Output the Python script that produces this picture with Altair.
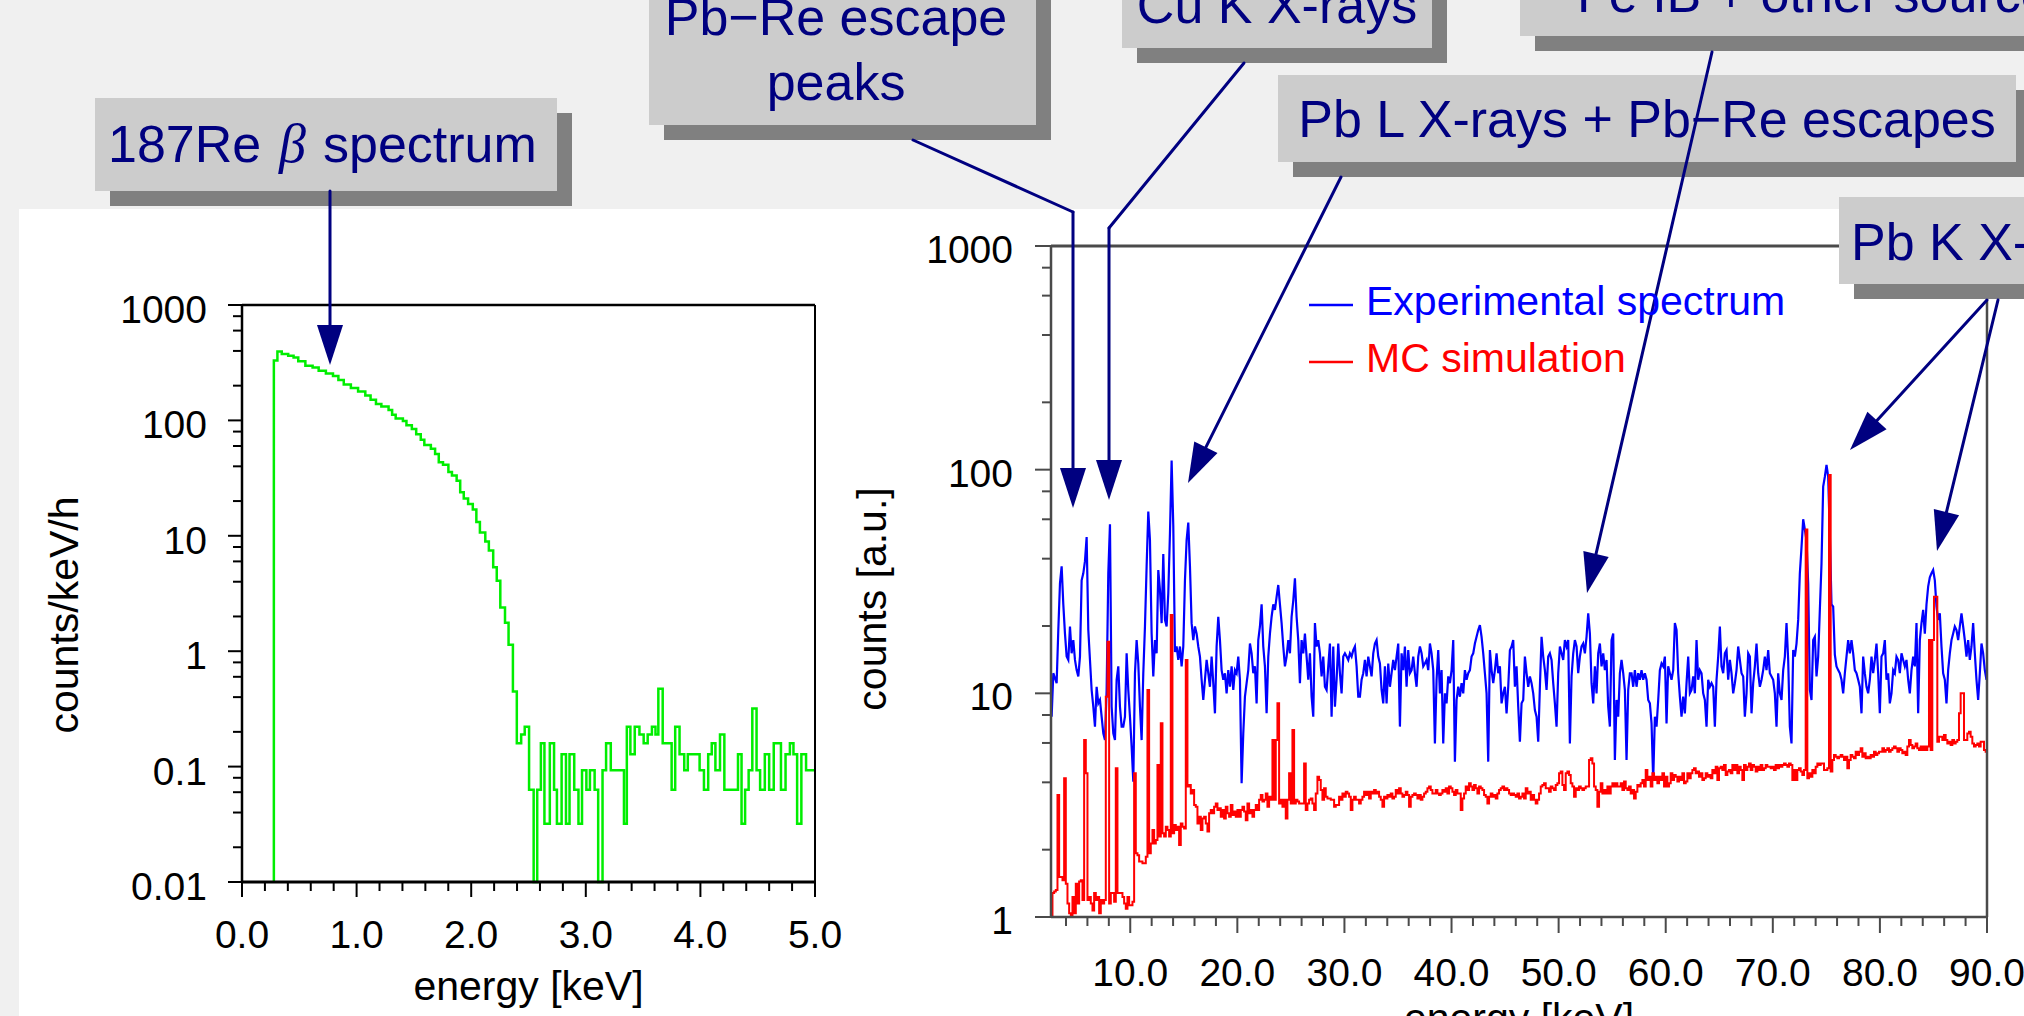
import math
import altair as alt
import pandas as pd

# ---------------- left panel: 187Re beta spectrum (bin left edge [keV], counts/keV/h) ----------------
green_steps = [
    (0.278, 0.01), (0.278, 331), (0.309, 396), (0.347, 377), (0.403, 363), (0.450, 351), (0.491, 326),
    (0.553, 298), (0.616, 287), (0.669, 269), (0.732, 255), (0.794, 242), (0.841, 224), (0.888, 205),
    (0.950, 191), (1.013, 178), (1.076, 164), (1.122, 151), (1.169, 139), (1.216, 132), (1.279, 123),
    (1.310, 112), (1.341, 104), (1.404, 99), (1.435, 90.6), (1.482, 84.3), (1.520, 75.7), (1.560, 68.1),
    (1.591, 61.1), (1.648, 56.9), (1.685, 51.2), (1.717, 43.4), (1.754, 41.3), (1.801, 35.8), (1.832, 33.3),
    (1.873, 30.0), (1.904, 23.9), (1.935, 21.0), (1.973, 18.9), (2.014, 16.9), (2.045, 13.2), (2.076, 10.7),
    (2.123, 8.92), (2.154, 7.46), (2.192, 5.34), (2.223, 4.07), (2.254, 2.39), (2.295, 1.76), (2.326, 1.14),
    (2.364, 0.447), (2.398, 0.159), (2.436, 0.19), (2.467, 0.222), (2.505, 0.063), (2.545, 0.01), (2.576, 0.063),
    (2.608, 0.159), (2.639, 0.032), (2.686, 0.159), (2.723, 0.063), (2.748, 0.032), (2.789, 0.128), (2.827, 0.032),
    (2.858, 0.128), (2.899, 0.063), (2.936, 0.032), (2.967, 0.093), (3.005, 0.063), (3.036, 0.093), (3.077, 0.063),
    (3.108, 0.01), (3.146, 0.093), (3.177, 0.159), (3.218, 0.093), (3.333, 0.032), (3.358, 0.222), (3.389, 0.128),
    (3.427, 0.222), (3.468, 0.19), (3.505, 0.159), (3.540, 0.19), (3.577, 0.222), (3.608, 0.19), (3.633, 0.473),
    (3.671, 0.159), (3.749, 0.063), (3.780, 0.222), (3.818, 0.128), (3.859, 0.093), (3.890, 0.128), (3.993, 0.093),
    (4.031, 0.063), (4.068, 0.128), (4.099, 0.159), (4.131, 0.093), (4.171, 0.19), (4.209, 0.063), (4.328, 0.128),
    (4.359, 0.032), (4.390, 0.063), (4.421, 0.093), (4.453, 0.318), (4.490, 0.093), (4.521, 0.063), (4.562, 0.128),
    (4.600, 0.063), (4.640, 0.159), (4.703, 0.063), (4.743, 0.128), (4.781, 0.159), (4.812, 0.128), (4.844, 0.032),
    (4.881, 0.128), (4.922, 0.093), (5.0, 0.093),
]

# ---------------- right panel: experimental spectrum and MC simulation (counts per channel) ----------------
channel_first_keV = 2.66
channel_width_keV = 0.1556

exp_counts = [
    7.86, 12.3, 11.7, 11.1, 19.2, 31, 37, 25, 18.5, 14.6, 14.1, 19.9, 15.1, 17.3, 14.1, 12.7, 11.9, 14.6, 32, 34.4,
    39, 50, 19.2, 14.1, 10.35, 8.71, 7.1, 10.7, 9.02, 9.34, 7.86, 6.62, 6.18, 10.35, 34.4, 57, 8.71, 6.62, 6.18, 11.5,
    13.2, 8.71, 7.1, 7.1, 7.86, 15.1, 10.35, 7.86, 5.78, 4.03, 12.3, 17.3, 13.6, 8.71, 6.18, 12.3, 19.9, 37, 65, 48.5,
    18.5, 11.9, 17.3, 15.1, 35.6, 29, 20.6, 42, 21.3, 19.9, 28, 52, 110, 56, 15.3, 16.2, 14.1, 16.2, 13.2, 16.2,
    32, 48.5, 58, 37, 20.6, 17.3, 19.9, 18.5, 16.2, 14.6, 11.5, 9.34,
    11.5, 14.1, 12.3, 10.7, 14.6, 11.1, 8.14, 16.2, 22, 17.3, 12.7, 11.5, 12.3, 10, 12.7, 10.7, 13.2, 10.35, 12.7, 12.3,
    14.6, 11.5, 3.96, 6.62, 9.66, 11.1, 12.7, 16.7, 15.1, 12.3, 13.2, 9.02, 17.3, 19.9, 25, 16.2, 13.2, 8.14, 14.6, 18.5,
    22, 25, 23.6, 27, 30.5, 25, 20.6, 16.2, 13.2, 14.6, 17.3, 15.1, 22, 26, 32.7, 22, 17.3, 11.1, 17.3, 15.1,
    18.5, 14.6, 11.5, 15.1, 9.66, 7.86, 20.6, 16.2, 17.3, 15.1, 11.9, 14.6, 10.7, 10.35, 13.2, 16.7, 7.86, 16.2, 8.71, 11.5,
    16.7, 12.3, 10, 14.6, 15.1, 14.6, 14.1, 15.1, 14.6, 15.6, 16.2, 13.2, 9.66,
    9.66, 11.5, 12.3, 14.1, 11.9, 14.6, 13.2, 11.9, 15.1, 16.7, 17.3, 14.6, 13.6, 10.35, 9.02, 13.2, 9.02, 13.6, 10.7, 12.3,
    14.1, 12.7, 14.6, 16.7, 7.1, 15.1, 12.7, 16.2, 10.7, 15.6, 12.3, 12.7, 14.6, 12.3, 10.7, 14.6, 16.2, 15.1, 13.2, 13.6,
    14.1, 12.7, 16.7, 15.1, 12.7, 5.97, 11.5, 15.6, 10, 12.7, 5.97, 10, 9.02, 11.9, 11.1, 12.7, 17.3, 4.95, 9.34, 10.7,
    9.66, 11.1, 10, 12.7, 11.5, 12.3, 12.7, 14.6, 15.1, 16.7, 17.9, 19.2, 20.2, 17.9, 15.1, 12.3, 10, 4.95, 15.6, 12.7,
    11.1, 12.7, 15.1, 12.3, 13.2, 9.02, 10, 10.7, 8.14, 10.7, 15.6, 16.2, 17.3,
    10.7, 13.2, 8.71, 6.08, 9.02, 9.34, 14.6, 12.3, 10.7, 11.9, 11.1, 10, 8.42, 7.86, 6.08, 10.7, 17.9, 14.6, 12.7, 10.35,
    14.6, 15.1, 14.1, 11.1, 9.02, 7.1, 12.3, 16.2, 15.1, 14.1, 17.3, 16.2, 17.3, 5.97, 11.9, 15.1, 17.3, 16.2, 12.3, 14.6,
    16.2, 16.7, 15.1, 17.9, 22.8, 18.5, 11.1, 9.02, 13.2, 10, 15.1, 16.7, 13.2, 15.1, 12.7, 14.1, 8.71, 7.1, 17.3, 18.5,
    5.03, 9.34, 7.86, 12.3, 14.1, 12.3, 10.35, 5.03, 10.35, 12.3, 12.3, 10.7, 12.7, 10.7, 12.3, 11.5, 12.7, 11.5, 12.3, 11.5,
    9.34, 9.02, 7.34, 4.1, 7.86, 7.1, 9.34, 12.7, 13.6, 13.2, 14.6, 7.34, 13.2,
    12.3, 11.5, 12.7, 20.6, 19.2, 12.3, 9.66, 7.86, 9.66, 8.14, 11.1, 14.6, 10, 10.35, 11.9, 10, 17.3, 11.5, 12.7, 12.3,
    10, 9.34, 7.1, 11.5, 10.7, 11.1, 10.7, 7.1, 11.5, 14.6, 19.9, 13.2, 12.3, 15.1, 15.6, 11.5, 14.1, 12.3, 10, 11.1,
    12.7, 16.2, 14.1, 12.3, 11.9, 7.86, 10, 15.1, 14.6, 8.14, 11.1, 13.2, 16.7, 12.3, 10.7, 11.5, 12.7, 14.6, 12.7, 15.6,
    12.3, 11.9, 11.5, 10, 7.1, 12.3, 10, 9.34, 12.7, 14.6, 20.6, 14.1, 7.1, 5.97, 15.6, 14.6, 16.7, 21.3, 34.4, 45,
    60, 54, 48.5, 31, 10.35, 9.34, 17.3, 17.9, 11.9, 14.6, 23.6, 38, 84,
    93, 105, 93, 51, 25, 24.4, 14.9, 13.2, 12.7, 12.3, 11.5, 10, 12.3, 14.6, 17.3, 15.1, 17.3, 15.1, 12.7, 12.3,
    11.5, 10.7, 8.14, 14.6, 12.3, 10.7, 10, 11.5, 14.6, 12.3, 14.1, 16.7, 12.3, 8.14, 14.6, 15.1, 17.3, 11.5, 12.3, 9.02,
    10, 12.7, 12.3, 14.6, 14.1, 12.3, 15.1, 14.1, 13.2, 14.1, 11.5, 10, 12.7, 14.6, 13.2, 20.6, 8.14, 17.3, 20.6, 23.6,
    18.5, 25, 30, 33, 34.4, 35.6, 32, 24.4, 21.3, 22.8, 16.2, 12.3, 11.5, 9.02, 12.7, 15.1, 17.3, 18.5, 19.9, 19.2,
    17.3, 19.9, 22.8, 19.9, 17.3, 14.6, 17.3, 14.1, 16.2, 20.6, 15.1, 11.5, 9.34, 12.3, 16.7, 15.1, 12.7, 11.5,
]

mc_counts = [
    1.0, 1.28, 1.30, 1.32, 3.51, 1.51, 1.51, 1.46, 4.17, 1.41, 1.15, 1.04, 1.0, 1.23, 1.04, 1.41, 1.15, 1.44, 1.46, 1.19,
    6.18, 4.39, 1.19, 1.23, 1.15, 1.07, 1.28, 1.19, 1.23, 1.04, 1.19, 1.15, 1.19, 9.66, 17.0, 1.15, 1.28, 1.28, 1.17, 4.62,
    1.28, 1.28, 1.28, 1.23, 1.15, 1.09, 1.23, 1.13, 1.13, 1.17, 4.39, 1.93, 1.89, 1.77, 1.77, 1.74, 1.74, 1.86, 10.35, 1.93,
    2.13, 2.45, 2.13, 2.21, 4.78, 2.29, 7.34, 2.37, 2.29, 2.53, 2.45, 2.29, 22.4, 2.37, 2.58, 2.45, 2.53, 2.10, 2.62, 2.53,
    2.49, 14.1, 3.83, 3.89, 3.57, 3.70, 3.17, 3.11, 2.62, 2.81, 2.45, 2.76,
    2.81, 2.62, 2.41, 2.91, 3.01, 2.91, 3.11, 3.22, 3.01, 3.06, 2.81, 3.01, 2.76, 3.11, 2.91, 2.81, 3.17, 2.86, 2.96, 2.81,
    3.01, 2.81, 3.01, 3.11, 2.96, 2.71, 3.22, 2.91, 3.01, 2.81, 3.01, 3.17, 3.01, 3.34, 3.51, 3.28, 3.34, 3.57, 3.11, 3.45,
    3.34, 6.18, 3.34, 6.18, 9.02, 3.22, 3.34, 3.11, 3.34, 2.76, 3.34, 4.39, 3.22, 6.86, 3.22, 3.34, 3.28, 3.22, 3.22, 3.22,
    4.86, 3.01, 3.22, 3.34, 3.39, 3.22, 3.01, 3.57, 4.24, 4.10, 3.70, 3.34, 3.76, 3.45, 3.39, 3.39, 3.34, 3.34, 3.11, 3.17,
    3.17, 3.45, 3.34, 3.57, 3.45, 3.63, 3.57, 3.45, 3.01, 3.34, 3.45, 3.34, 3.34,
    3.22, 3.34, 3.45, 3.63, 3.51, 3.63, 3.39, 3.63, 3.57, 3.70, 3.57, 3.63, 3.45, 3.34, 3.11, 3.45, 3.39, 3.51, 3.45, 3.57,
    3.39, 3.45, 3.70, 3.57, 3.76, 3.57, 3.45, 3.51, 3.63, 3.51, 3.11, 3.45, 3.51, 3.57, 3.51, 3.39, 3.51, 3.34, 3.45, 3.57,
    3.63, 3.76, 3.83, 3.70, 3.57, 3.57, 3.70, 3.57, 3.51, 3.57, 3.70, 3.63, 3.76, 3.57, 3.83, 3.76, 3.63, 3.51, 3.70, 3.57,
    3.57, 3.01, 3.39, 3.57, 3.83, 3.70, 3.96, 3.83, 3.70, 3.89, 3.76, 3.57, 3.83, 3.76, 3.70, 3.51, 3.45, 3.22, 3.45, 3.57,
    3.45, 3.51, 3.39, 3.57, 3.70, 3.76, 3.83, 3.70, 3.76, 3.70, 3.57, 3.51, 3.57,
    3.51, 3.45, 3.57, 3.39, 3.45, 3.57, 3.39, 3.76, 3.57, 3.63, 3.34, 3.51, 3.34, 3.22, 3.34, 3.57, 3.83, 3.89, 3.96, 3.76,
    3.76, 3.63, 3.83, 3.76, 3.70, 3.89, 3.96, 4.39, 4.47, 3.89, 3.70, 4.39, 4.47, 4.31, 3.96, 3.83, 3.45, 3.76, 3.70, 3.83,
    3.76, 3.70, 3.76, 3.83, 3.83, 5.03, 5.12, 4.86, 3.83, 3.70, 3.11, 3.63, 3.96, 3.57, 3.70, 3.57, 3.83, 3.57, 3.83, 3.96,
    3.83, 3.96, 3.83, 3.83, 3.96, 3.70, 4.03, 3.76, 3.70, 3.83, 3.57, 3.70, 3.39, 3.63, 3.89, 3.83, 3.96, 4.10, 3.83, 4.54,
    4.10, 4.24, 3.83, 4.39, 4.10, 4.24, 3.96, 4.24, 4.10, 4.39, 3.83, 4.24, 3.83,
    3.96, 4.39, 4.10, 4.31, 4.24, 4.03, 4.24, 4.10, 4.39, 3.96, 4.03, 4.39, 4.17, 4.39, 4.54, 4.62, 4.39, 4.47, 4.24, 4.39,
    4.10, 4.17, 4.39, 4.24, 4.31, 4.17, 4.54, 4.39, 4.70, 4.10, 4.62, 4.70, 4.54, 4.78, 4.31, 4.47, 4.54, 4.39, 4.78, 4.54,
    4.78, 4.39, 4.70, 4.54, 4.10, 4.78, 4.54, 4.70, 4.86, 4.54, 4.78, 4.70, 4.47, 4.70, 4.54, 4.78, 4.54, 4.62, 4.78, 4.70,
    4.70, 4.62, 4.70, 4.54, 4.78, 4.62, 4.78, 4.70, 4.78, 4.86, 4.78, 4.70, 4.86, 4.78, 4.10, 4.54, 4.10, 4.54, 4.62, 4.47,
    4.31, 4.54, 54, 4.17, 4.39, 4.24, 4.54, 4.39, 4.70, 4.86, 4.78, 4.86, 4.86,
    4.54, 4.54, 4.62, 94.7, 4.47, 5.03, 5.30, 5.21, 5.12, 5.21, 5.30, 5.21, 5.03, 5.21, 4.62, 5.03, 5.30, 5.21, 5.12, 5.48,
    5.30, 5.48, 5.68, 5.21, 5.39, 5.12, 5.21, 5.12, 5.30, 5.21, 5.48, 5.30, 5.39, 5.48, 5.48, 5.68, 5.48, 5.58, 5.68, 5.48,
    5.58, 5.68, 5.78, 5.68, 5.48, 5.68, 5.58, 5.39, 5.48, 5.30, 5.78, 6.18, 5.87, 5.68, 5.78, 5.97, 5.68, 5.58, 5.78, 5.58,
    5.78, 5.58, 5.78, 17.3, 5.58, 17.3, 27, 27, 6.08, 6.40, 6.40, 6.18, 6.51, 6.18, 5.97, 6.08, 5.87, 6.18, 5.97, 6.08,
    6.18, 8.14, 10, 10, 6.18, 6.18, 6.62, 6.74, 6.40, 5.97, 5.78, 5.87, 5.97, 5.78, 6.08, 6.08, 5.58, 5.48,
]

# ---------------- axis ticks and labels ----------------
left_x_ticks = [0, 1, 2, 3, 4, 5]
left_x_labels = ["0.0", "1.0", "2.0", "3.0", "4.0", "5.0"]
left_y_ticks = [0.01, 0.1, 1, 10, 100, 1000]
left_y_labels = ["0.01", "0.1", "1", "10", "100", "1000"]
right_x_ticks = [10, 20, 30, 40, 50, 60, 70, 80, 90]
right_x_labels = ["10.0", "20.0", "30.0", "40.0", "50.0", "60.0", "70.0", "80.0", "90.0"]
right_y_ticks = [1, 10, 100, 1000]
right_y_labels = ["1", "10", "100", "1000"]

callouts_center = [("Pb\u2212Re escape", 836, 35), ("peaks", 836, 100), ("Cu K X-rays", 1277, 23),
                   ("Pb L X-rays + Pb\u2212Re escapes", 1647, 137)]
callouts_left = [("187Re", 108, 162), ("spectrum", 323, 162), ("Fe IB + other sources", 1577, 12),
                 ("Pb K X-rays", 1851, 260)]
callout_beta = [("\u03b2", 279, 162)]
legend_items = [("Experimental spectrum", "#0000ff", 305), ("MC simulation", "#ff0000", 362)]

# ---------------- layout (canvas pixels) ----------------
W, H = 2024, 1016
FONT = "Liberation Sans"
NAVY = "#000080"
L_X, L_Y = (242, 815), (882, 305)
R_X, R_Y = (1051, 1987), (917, 246)

boxes = [(95, 557, 98, 191), (649, 1036, -60, 125), (1122, 1432, -60, 48), (1520, 2100, -60, 36),
         (1278, 2016, 75, 162), (1839, 2100, 197, 284)]
bends = [(913, 140, 1073, 212), (1244, 63, 1109, 228)]
arrows = [(330, 191, 330, 365), (1073, 212, 1073, 508), (1109, 228, 1109, 500), (1341, 177, 1188, 483),
          (1712, 52, 1587, 593), (1987, 300, 1850, 450), (1998, 300, 1937, 551)]
gray_bands = [(0, W, 0, 209), (0, 19, 209, H)]


def pxX(f):
    return alt.X(f, scale=None, axis=None)


def pxY(f):
    return alt.Y(f, scale=None, axis=None)


def panel(xs, ys, lines, xt, xl, yt, yl, xminor, yminor, frame, color, px, py, xtick, ytick,
          xlab_y, ylab_x, ylab_dy, xtitle, ytitle):
    """Build one spectrum panel: data lines + hand-built axes through the panel's scales."""
    X = lambda f: alt.X(f, scale=xs, axis=None)
    Y = lambda f: alt.Y(f, scale=ys, axis=None)
    fr = alt.Chart(frame).mark_rule(color=color).encode(
        x=X("x1:Q"), x2="x2:Q", y=Y("y1:Q"), y2="y2:Q", strokeWidth=alt.StrokeWidth("w:Q", scale=None))
    xtd = pd.DataFrame({"v": xt, "t": xl})
    ytd = pd.DataFrame({"v": yt, "t": yl})
    xmaj = alt.Chart(xtd).mark_rule(color=color, strokeWidth=2).encode(
        x=X("v:Q"), y=alt.value(py), y2=alt.value(py + xtick))
    ymaj = alt.Chart(ytd).mark_rule(color=color, strokeWidth=2).encode(
        y=Y("v:Q"), x=alt.value(px - ytick), x2=alt.value(px))
    xmin = alt.Chart(pd.DataFrame({"v": xminor})).mark_rule(color=color, strokeWidth=2).encode(
        x=X("v:Q"), y=alt.value(py), y2=alt.value(py + 9))
    ymin = alt.Chart(pd.DataFrame({"v": yminor})).mark_rule(color=color, strokeWidth=2).encode(
        y=Y("v:Q"), x=alt.value(px - 9), x2=alt.value(px))
    xlab = alt.Chart(xtd).mark_text(font=FONT, fontSize=39, color="black", align="center",
                                    baseline="top").encode(x=X("v:Q"), y=alt.value(xlab_y), text="t:N")
    ylab = alt.Chart(ytd).mark_text(font=FONT, fontSize=39, color="black", align="right",
                                    baseline="middle", dy=ylab_dy).encode(
        y=Y("v:Q"), x=alt.value(ylab_x), text="t:N")
    tx = alt.Chart(pd.DataFrame([xtitle], columns=["t", "x", "y"])).mark_text(
        font=FONT, fontSize=41, color="black", align="center", baseline="alphabetic").encode(
        x=pxX("x:Q"), y=pxY("y:Q"), text="t:N")
    ty = alt.Chart(pd.DataFrame([ytitle], columns=["t", "x", "y"])).mark_text(
        font=FONT, fontSize=41, color="black", align="center", baseline="alphabetic", angle=270).encode(
        x=pxX("x:Q"), y=pxY("y:Q"), text="t:N")
    return alt.layer(*lines, fr, xmaj, ymaj, xmin, ymin, xlab, ylab, tx, ty)


# light-gray frame around the white page area
bands = alt.Chart(pd.DataFrame(gray_bands, columns=["x1", "x2", "y1", "y2"])).mark_rect(color="#f0f0f0").encode(
    x=pxX("x1:Q"), x2="x2:Q", y=pxY("y1:Q"), y2="y2:Q")

# ---- left panel ----
lx = alt.Scale(domain=[0, 5], range=list(L_X), nice=False, zero=False)
ly = alt.Scale(type="log", domain=[0.01, 1000], range=list(L_Y), nice=False)
gdf = pd.DataFrame(green_steps, columns=["E", "c"])
gdf["i"] = range(len(gdf))
green = alt.Chart(gdf).mark_line(color="#00ee00", strokeWidth=2.5, interpolate="step-after").encode(
    x=alt.X("E:Q", scale=lx, axis=None), y=alt.Y("c:Q", scale=ly, axis=None), order="i:Q")
lframe = pd.DataFrame({"x1": [0, 0, 0, 5], "x2": [5, 0, 5, 5], "y1": [0.01, 0.01, 1000, 0.01],
                       "y2": [0.01, 1000, 1000, 1000], "w": [3.0, 2.5, 2.5, 2.0]})
left_panel = panel(
    lx, ly, [green], left_x_ticks, left_x_labels, left_y_ticks, left_y_labels,
    [round(0.2 * i, 1) for i in range(1, 25) if i % 5],
    [m * 10.0 ** e for e in range(-2, 3) for m in (2, 4, 6, 8)],
    lframe, "black", L_X[0], L_Y[0], 15, 14, 917, 207, 6,
    ("energy [keV]", (L_X[0] + L_X[1]) / 2, 1000), ("counts/keV/h", 78, 615))

# ---- right panel ----
rx = alt.Scale(domain=[2.6, 90], range=list(R_X), nice=False, zero=False)
ry = alt.Scale(type="log", domain=[1, 1000], range=list(R_Y), nice=False)
edf = pd.DataFrame({"E": [channel_first_keV + i * channel_width_keV for i in range(len(exp_counts))],
                    "c": exp_counts})
mdf = pd.DataFrame({"E": [channel_first_keV + i * channel_width_keV for i in range(len(mc_counts))],
                    "c": mc_counts})
blue = alt.Chart(edf).mark_line(color="#0000ff", strokeWidth=2.2).encode(
    x=alt.X("E:Q", scale=rx, axis=None), y=alt.Y("c:Q", scale=ry, axis=None))
red = alt.Chart(mdf).mark_line(color="#ff0000", strokeWidth=2, interpolate="step").encode(
    x=alt.X("E:Q", scale=rx, axis=None), y=alt.Y("c:Q", scale=ry, axis=None))
rframe = pd.DataFrame({"x1": [2.6, 2.6, 2.6, 90], "x2": [90, 2.6, 90, 90], "y1": [1, 1, 1000, 1],
                       "y2": [1, 1000, 1000, 1000], "w": [2.5, 2.5, 3.0, 2.5]})
right_panel = panel(
    rx, ry, [blue, red], right_x_ticks, right_x_labels, right_y_ticks, right_y_labels,
    [v for v in range(4, 90, 2) if v % 10],
    [m * 10.0 ** e for e in range(0, 3) for m in (2, 4, 6, 8)],
    rframe, "#4a4a4a", R_X[0], R_Y[0], 16, 16, 955, 1013, 5,
    ("energy [keV]", (R_X[0] + R_X[1]) / 2, 1032), ("counts [a.u.]", 886, 599))

# ---- callout boxes ----
bdf = pd.DataFrame(boxes, columns=["x1", "x2", "y1", "y2"])
sdf = bdf + 15
shadow = alt.Chart(sdf).mark_rect(color="#808080").encode(
    x=pxX("x1:Q"), x2="x2:Q", y=pxY("y1:Q"), y2="y2:Q")
box = alt.Chart(bdf).mark_rect(color="#cccccc").encode(
    x=pxX("x1:Q"), x2="x2:Q", y=pxY("y1:Q"), y2="y2:Q")

# ---- arrows ----
seg_rows, head_rows = list(bends), []
for (x0, y0, x1, y1) in arrows:
    L = math.hypot(x1 - x0, y1 - y0)
    ux, uy = (x1 - x0) / L, (y1 - y0) / L
    cx, cy = x1 - 20 * ux, y1 - 20 * uy
    seg_rows.append((x0, y0, cx, cy))
    ang = math.degrees(math.atan2(-ux, uy)) % 360
    head_rows.append((cx, cy, ang))
segdf = pd.DataFrame(seg_rows, columns=["x1", "y1", "x2", "y2"])
headdf = pd.DataFrame(head_rows, columns=["x", "y", "a"])
shafts = alt.Chart(segdf).mark_rule(color=NAVY, strokeWidth=3, strokeCap="round").encode(
    x=pxX("x1:Q"), x2="x2:Q", y=pxY("y1:Q"), y2="y2:Q")
heads = alt.Chart(headdf).mark_point(shape="M0,1L-0.65,-1L0.65,-1Z", filled=True, size=1600,
                                     color=NAVY, opacity=1, strokeWidth=0).encode(
    x=pxX("x:Q"), y=pxY("y:Q"), angle=alt.Angle("a:Q", scale=None))

# ---- callout texts ----
ctx = alt.Chart(pd.DataFrame(callouts_center, columns=["t", "x", "y"])).mark_text(
    font=FONT, fontSize=52, color=NAVY, align="center", baseline="alphabetic").encode(
    x=pxX("x:Q"), y=pxY("y:Q"), text="t:N")
ltx = alt.Chart(pd.DataFrame(callouts_left, columns=["t", "x", "y"])).mark_text(
    font=FONT, fontSize=52, color=NAVY, align="left", baseline="alphabetic").encode(
    x=pxX("x:Q"), y=pxY("y:Q"), text="t:N")
btx = alt.Chart(pd.DataFrame(callout_beta, columns=["t", "x", "y"])).mark_text(
    font="Liberation Serif", fontStyle="italic", fontSize=54, color=NAVY, align="left",
    baseline="alphabetic").encode(x=pxX("x:Q"), y=pxY("y:Q"), text="t:N")

# ---- legend ----
legdf = pd.DataFrame(legend_items, columns=["t", "col", "y"])
legdf["x1"], legdf["x2"], legdf["xt"], legdf["yt"] = 1309, 1353, 1366, legdf["y"] + 10
leg_lines = alt.Chart(legdf).mark_rule(strokeWidth=2.5).encode(
    x=pxX("x1:Q"), x2="x2:Q", y=pxY("y:Q"), color=alt.Color("col:N", scale=None))
leg_text = alt.Chart(legdf).mark_text(font=FONT, fontSize=41, align="left", baseline="alphabetic").encode(
    x=pxX("xt:Q"), y=pxY("yt:Q"), text="t:N", color=alt.Color("col:N", scale=None))

chart = alt.layer(
    bands, left_panel, right_panel, shadow, box, shafts, heads, ctx, ltx, btx, leg_lines, leg_text
).resolve_scale(x="independent", y="independent").properties(
    width=W, height=H, autosize=alt.AutoSizeParams(type="none"), padding=0, background="white"
).configure_view(stroke=None)

chart.save("out.html", embed_options={"renderer": "svg", "actions": False})
